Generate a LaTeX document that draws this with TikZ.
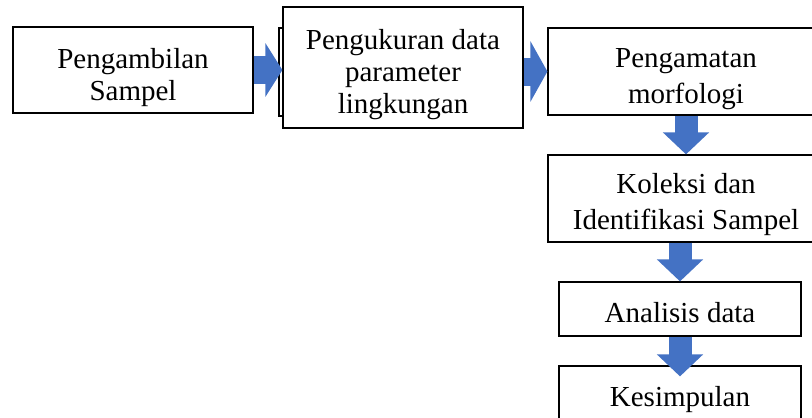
\documentclass[tikz,border=0pt]{standalone}
\usepackage{fontspec}
\setmainfont{Liberation Serif}
\usetikzlibrary{arrows.meta}
\usetikzlibrary{positioning}
\definecolor{flowblue}{RGB}{68,114,196}
\newcommand{\textlift}[1]{\rule{0pt}{#1}}
\tikzstyle{box} = [draw, line width=1.2pt, fill=white, align=center,
inner sep=0pt, font=\fontsize{29}{32}\selectfont]
\tikzstyle{line} = [draw, flowblue, -{Triangle[length=17pt,width=53pt]}]

\begin{document}
\begin{tikzpicture}[x=1pt, y=-1pt,
        tall/.style={font=\fontsize{29}{36}\selectfont},
        hline/.style={line, line width=28pt},
        vline/.style={line, line width=23pt, -{Triangle[length=22pt,width=45pt]}}]
        \clip (0,0) rectangle (812,418);
        %% Boxes
        \node [box, minimum width=240pt, minimum height=86pt] at (133,70) (sampel) {\textlift{35pt}Pengambilan\\Sampel};
        \node [box, minimum width=221pt, minimum height=88pt, line width=1.8pt] at (389.5,72) (behind) {};
        \node [box, minimum width=240pt, minimum height=121pt] at (403,67.5) (ukur) {\textlift{34pt}Pengukuran data\\parameter\\lingkungan};
        \node [box, tall, minimum width=276pt, minimum height=87pt] at (686,71.5) (amati) {\textlift{35pt}Pengamatan\\morfologi};
        \node [box, tall, minimum width=276pt, minimum height=87pt] at (686,198.5) (koleksi) {\textlift{33pt}Koleksi dan\\Identifikasi Sampel};
        \node [box, minimum width=242pt, minimum height=54pt] at (680,309) (analisis) {\textlift{28pt}Analisis data};
        \node [box, minimum width=242pt, minimum height=60pt] at (680,396) (simpul) {\textlift{27pt}Kesimpulan};
        %% Arrows
        \path [hline] (sampel.east) -- (sampel.east -| ukur.west);
        \path [hline, -{Triangle[length=17pt,width=60pt]}] (ukur.east |- amati.west) -- (amati.west);
        \path [vline] (amati.south) -- (koleksi.north);
        \path [vline] (koleksi.south -| analisis.north) -- (analisis.north);
        \path [vline, shorten >=-11pt] (analisis.south) -- (simpul.north);
    \end{tikzpicture}
\end{document}
